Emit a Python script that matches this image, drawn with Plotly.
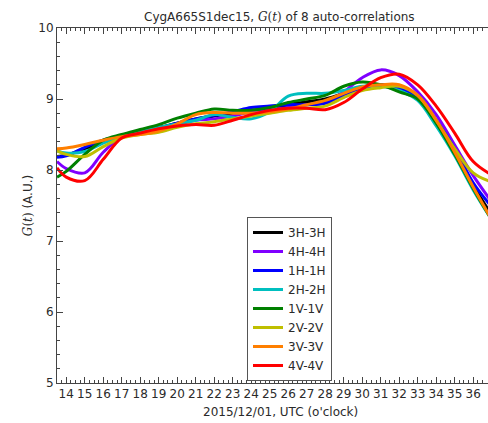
import plotly.graph_objects as go

hours = [13.5, 14, 15, 16, 17, 18, 19, 20, 21, 22, 23, 24, 25, 26, 27, 28, 29, 30, 31, 32, 33, 34, 35, 36, 37]

g_3h = [8.19, 8.21, 8.30, 8.40, 8.48, 8.55, 8.60, 8.66, 8.72, 8.76, 8.80, 8.84, 8.87, 8.92, 8.96, 9.00, 9.08, 9.17, 9.20, 9.16, 9.02, 8.70, 8.28, 7.78, 7.37]
g_4h = [8.12, 8.02, 7.96, 8.25, 8.47, 8.55, 8.58, 8.64, 8.70, 8.72, 8.76, 8.82, 8.85, 8.88, 8.92, 8.95, 9.10, 9.30, 9.41, 9.33, 9.10, 8.78, 8.35, 7.92, 7.55]
g_1h = [8.18, 8.20, 8.32, 8.42, 8.48, 8.55, 8.59, 8.66, 8.72, 8.77, 8.82, 8.88, 8.90, 8.92, 8.92, 8.94, 9.05, 9.15, 9.20, 9.15, 9.02, 8.70, 8.30, 7.82, 7.48]
g_2h = [8.27, 8.24, 8.26, 8.38, 8.47, 8.54, 8.60, 8.65, 8.70, 8.78, 8.74, 8.72, 8.82, 9.04, 9.08, 9.08, 9.12, 9.18, 9.18, 9.12, 8.98, 8.62, 8.20, 7.72, 7.30]
g_1v = [7.90, 7.98, 8.22, 8.42, 8.50, 8.57, 8.64, 8.73, 8.80, 8.86, 8.84, 8.84, 8.88, 8.95, 9.00, 9.05, 9.18, 9.24, 9.20, 9.10, 9.00, 8.66, 8.22, 7.74, 7.30]
g_2v = [8.27, 8.22, 8.19, 8.33, 8.45, 8.50, 8.53, 8.60, 8.65, 8.68, 8.72, 8.76, 8.80, 8.84, 8.87, 8.90, 9.02, 9.12, 9.16, 9.18, 9.05, 8.70, 8.30, 7.96, 7.83]
g_3v = [8.30, 8.31, 8.36, 8.42, 8.47, 8.50, 8.55, 8.65, 8.78, 8.81, 8.80, 8.80, 8.82, 8.86, 8.92, 8.98, 9.08, 9.17, 9.20, 9.20, 9.05, 8.70, 8.25, 7.76, 7.30]
g_4v = [8.03, 7.90, 7.85, 8.15, 8.45, 8.52, 8.58, 8.62, 8.64, 8.63, 8.70, 8.78, 8.84, 8.87, 8.87, 8.85, 8.95, 9.14, 9.30, 9.35, 9.20, 8.90, 8.52, 8.12, 7.93]

names = ["3H-3H", "4H-4H", "1H-1H", "2H-2H", "1V-1V", "2V-2V", "3V-3V", "4V-4V"]
series = [g_3h, g_4h, g_1h, g_2h, g_1v, g_2v, g_3v, g_4v]
colors = ["#000000", "#7f00ff", "#0000ff", "#00bfbf", "#008000", "#bfbf00", "#ff7f00", "#ff0000"]

fig = go.Figure()
for n, s, c in zip(names, series, colors):
    fig.add_trace(go.Scatter(x=hours, y=s, name=n, mode="lines",
                             line=dict(color=c, width=3, shape="spline", smoothing=1.0)))

W, H = 488, 423
L, R, T, B = 57, 0, 28, 40
txt = "#2a2a2a"

fig.update_layout(
    width=W, height=H,
    margin=dict(l=L, r=R, t=T, b=B, pad=0),
    paper_bgcolor="white", plot_bgcolor="white",
    font=dict(family="DejaVu Sans", size=12, color=txt),
    showlegend=True,
    legend=dict(x=(247 - L) / (W - L - R), y=(383 - 217) / (H - T - B),
                xanchor="left", yanchor="top",
                bgcolor="white", bordercolor="#555555", borderwidth=1,
                font=dict(family="DejaVu Sans", size=12, color=txt),
                itemwidth=30, tracegroupgap=0),
    xaxis=dict(range=[13.5, 36.8], dtick=1, tick0=14,
               showgrid=False, zeroline=False,
               showline=True, linecolor="#444444", linewidth=1, mirror="ticks",
               ticks="inside", ticklen=6, tickcolor="#444444",
               minor=dict(dtick=0.25, ticks="inside", ticklen=3, tickcolor="#444444"),
               tickfont=dict(family="DejaVu Sans", size=12, color=txt)),
    yaxis=dict(range=[5, 10], dtick=1,
               showgrid=False, zeroline=False,
               showline=True, linecolor="#444444", linewidth=1, mirror=False,
               ticks="inside", ticklen=6, tickcolor="#444444",
               minor=dict(dtick=0.2, ticks="inside", ticklen=3, tickcolor="#444444"),
               tickfont=dict(family="DejaVu Sans", size=12, color=txt),
               title=dict(text="<span style='font-family:DejaVu Serif'><i>G</i>(<i>t</i>)</span> (A.U.)",
                          font=dict(family="DejaVu Sans", size=12, color=txt),
                          standoff=3)),
    annotations=[
        dict(text="CygA665S1dec15, <span style='font-family:DejaVu Serif'><i>G</i>(<i>t</i>)</span> of 8 auto-correlations",
             xref="paper", yref="paper", x=(279 - L) / (W - L - R), y=1 + (T - 17) / (H - T - B),
             xanchor="center", yanchor="middle", showarrow=False,
             font=dict(family="DejaVu Sans", size=12, color=txt)),
        dict(text="2015/12/01, UTC (o'clock)",
             xref="paper", yref="paper", x=(280 - L) / (W - L - R), y=-(412 - 383) / (H - T - B),
             xanchor="center", yanchor="middle", showarrow=False,
             font=dict(family="DejaVu Sans", size=12, color=txt)),
    ],
)

fig.write_html("out.html")
